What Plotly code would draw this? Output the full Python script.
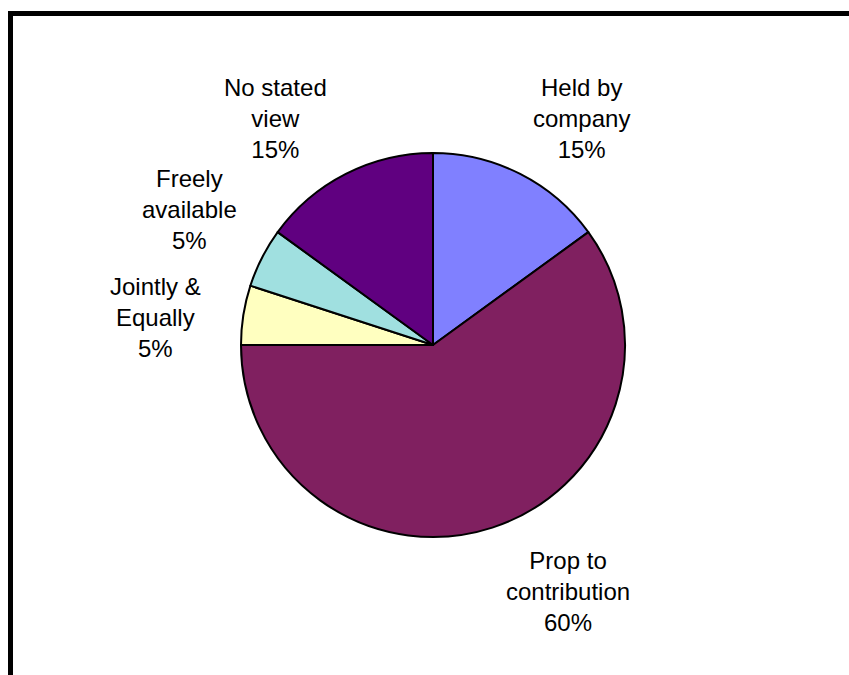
import plotly.graph_objects as go

# Ownership views, clockwise from 12 o'clock
categories = ["Held by company", "Prop to contribution", "Jointly & Equally",
              "Freely available", "No stated view"]
label_lines = ["Held by<br>company", "Prop to<br>contribution", "Jointly &<br>Equally",
               "Freely<br>available", "No stated<br>view"]
shares = [15, 60, 5, 5, 15]
colors = ["#8080FF", "#802060", "#FFFFC0", "#A0E0E0", "#600080"]

# label anchor positions in pixels (canvas 849 x 675)
label_px = [(581, 119), (568, 591), (155, 318), (189, 209), (275, 119)]

W, H = 849, 675
cx, cy, r = 433, 345, 192

fig = go.Figure(go.Pie(
    labels=categories,
    values=shares,
    sort=False,
    direction="clockwise",
    rotation=0,
    textinfo="none",
    hoverinfo="label+percent",
    marker=dict(colors=colors, line=dict(color="#000000", width=2)),
    domain=dict(x=[(cx - r) / W, (cx + r) / W],
                y=[1 - (cy + r) / H, 1 - (cy - r) / H]),
    showlegend=False,
))

for txt, val, (px, py) in zip(label_lines, shares, label_px):
    fig.add_annotation(
        x=px / W, y=1 - py / H, xref="paper", yref="paper",
        text=f"{txt}<br>{val}%", showarrow=False,
        xanchor="center", yanchor="middle", align="center",
        font=dict(family="Liberation Sans, Arial, sans-serif", size=24, color="#000000"),
    )

# frame edges (top and left)
fig.add_shape(type="line", xref="paper", yref="paper",
              x0=8 / W, x1=1.0, y0=1 - 13.5 / H, y1=1 - 13.5 / H,
              line=dict(color="#000000", width=5))
fig.add_shape(type="line", xref="paper", yref="paper",
              x0=10.5 / W, x1=10.5 / W, y0=1 - 11 / H, y1=0,
              line=dict(color="#000000", width=5))

fig.update_layout(
    width=W, height=H,
    margin=dict(l=0, r=0, t=0, b=0),
    paper_bgcolor="#FFFFFF",
    plot_bgcolor="#FFFFFF",
)

fig.write_html("out.html")
